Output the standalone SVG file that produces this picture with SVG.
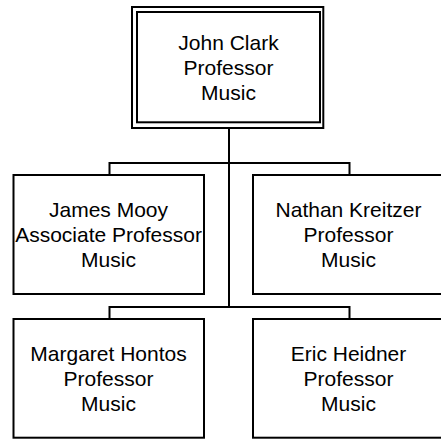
<svg xmlns="http://www.w3.org/2000/svg" width="441" height="442" viewBox="0 0 441 442">
<style>
.box{fill:#ffffff;stroke:#000000;stroke-width:2}
.ln{fill:none;stroke:#000000;stroke-width:2}
text{font-family:"Liberation Sans",Arial,sans-serif;font-size:21px;fill:#000000;text-anchor:middle}
</style>
<rect x="0" y="0" width="441" height="442" fill="#ffffff"/>
<g id="connectors">
<path class="ln" d="M229,128 V307"/>
<path class="ln" d="M109.5,175 V163 H349.5 V175"/>
<path class="ln" d="M109.5,319 V307 H349.5 V319"/>
</g>
<g id="node-john-clark">
<rect class="box" x="132" y="7" width="191.3" height="121"/>
<rect class="box" x="137" y="12" width="183" height="110.3"/>
<text x="228.5" y="49.5">John Clark</text>
<text x="228.5" y="74.5">Professor</text>
<text x="228.5" y="99.5">Music</text>
</g>
<g id="node-james-mooy">
<rect class="box" x="13.5" y="175" width="190.5" height="119"/>
<text x="108.5" y="217">James Mooy</text>
<text x="108.5" y="242">Associate Professor</text>
<text x="108.5" y="267">Music</text>
</g>
<g id="node-nathan-kreitzer">
<rect class="box" x="253" y="175" width="190.5" height="119"/>
<text x="348.5" y="217">Nathan Kreitzer</text>
<text x="348.5" y="242">Professor</text>
<text x="348.5" y="267">Music</text>
</g>
<g id="node-margaret-hontos">
<rect class="box" x="13.5" y="319" width="190.5" height="118.7"/>
<text x="108.5" y="361">Margaret Hontos</text>
<text x="108.5" y="386">Professor</text>
<text x="108.5" y="411">Music</text>
</g>
<g id="node-eric-heidner">
<rect class="box" x="253" y="319" width="190.5" height="118.7"/>
<text x="348.5" y="361">Eric Heidner</text>
<text x="348.5" y="386">Professor</text>
<text x="348.5" y="411">Music</text>
</g>
</svg>
